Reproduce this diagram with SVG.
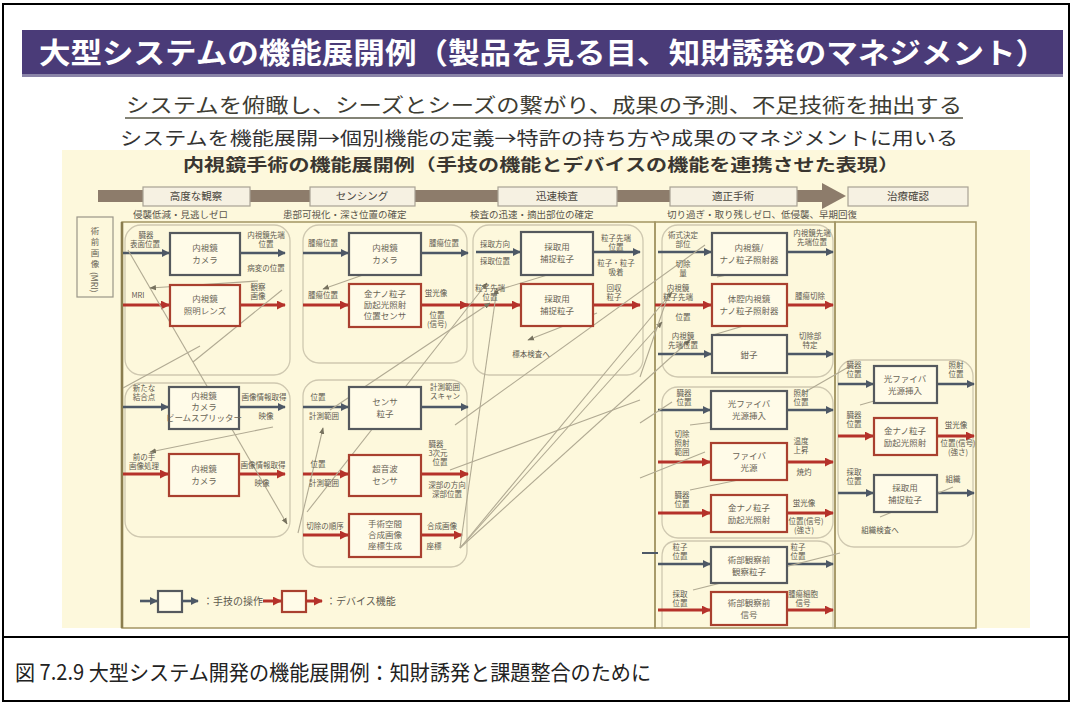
<svg xmlns="http://www.w3.org/2000/svg" width="1073" height="704" viewBox="0 0 1073 704">
<style>
text{font-family:"Noto Sans CJK JP","Noto Sans",sans-serif}
.lb{font-size:7.5px;fill:#5e5a50;text-anchor:middle}
.nt{font-size:8.5px;fill:#6a6456;text-anchor:middle}
.dk{fill:#fffbe8;stroke:#55595e;stroke-width:2.2}
.rd{fill:#fffbe8;stroke:#a9402f;stroke-width:2.2}
.ad{stroke:#4d5866;stroke-width:2.6;marker-end:url(#mad)}
.ar{stroke:#b5322a;stroke-width:3;marker-end:url(#mar)}
.dg{stroke:#b1aa93;stroke-width:1.1;fill:none}
.dga{stroke:#b1aa93;stroke-width:1.1;fill:none;marker-end:url(#mag)}
.grp{fill:none;stroke:#cfc8b0;stroke-width:1.3}
.frm{stroke:#a39563;stroke-width:1.5;fill:none}
.ph{fill:#f6f1e2;stroke:#a8a294;stroke-width:1.2}
.pht{font-size:10.5px;fill:#4a463e;text-anchor:middle}
.sub{font-size:9.5px;fill:#5a564c}
</style>
<defs>
<marker id="mad" viewBox="0 0 10 10" refX="9" refY="5" markerWidth="3.2" markerHeight="3.2" orient="auto"><path d="M0,0L10,5L0,10z" fill="#4d5866"/></marker>
<marker id="mar" viewBox="0 0 10 10" refX="9" refY="5" markerWidth="3" markerHeight="3" orient="auto"><path d="M0,0L10,5L0,10z" fill="#b5322a"/></marker>
<marker id="mag" viewBox="0 0 10 10" refX="9" refY="5" markerWidth="6" markerHeight="6" orient="auto"><path d="M0,1L10,5L0,9z" fill="#77725f"/></marker>
</defs>

<rect x="0" y="0" width="1073" height="704" fill="#ffffff"/>
<rect x="3" y="4" width="1066" height="697" fill="none" stroke="#000" stroke-width="2"/>
<line x1="3" y1="637" x2="1069" y2="637" stroke="#000" stroke-width="2"/>

<!-- title -->
<g id="title">
<rect x="22" y="30" width="1041" height="46" fill="#4a3b78"/>
<rect x="22" y="74" width="1041" height="3" fill="#8a84a8"/>
<text x="543" y="64" font-size="29" font-weight="bold" fill="#ffffff" text-anchor="middle" textLength="1008" lengthAdjust="spacingAndGlyphs">大型システムの機能展開例（製品を見る目、知財誘発のマネジメント）</text>
<text x="544" y="113" font-size="20" fill="#3e3d33" text-anchor="middle" textLength="836" lengthAdjust="spacingAndGlyphs">システムを俯瞰し、シーズとシーズの繋がり、成果の予測、不足技術を抽出する</text>
<line x1="125" y1="118" x2="963" y2="118" stroke="#5a5a48" stroke-width="1.3"/>
<text x="539" y="145" font-size="18.5" fill="#333" text-anchor="middle" textLength="838" lengthAdjust="spacingAndGlyphs">システムを機能展開→個別機能の定義→特許の持ち方や成果のマネジメントに用いる</text>
</g>

<!-- panel -->
<rect x="62" y="150" width="968" height="478" fill="#fdf8dc"/>
<text x="541" y="171" font-size="16.5" font-weight="bold" fill="#3a3630" text-anchor="middle" textLength="716" lengthAdjust="spacingAndGlyphs">内視鏡手術の機能展開例（手技の機能とデバイスの機能を連携させた表現）</text>

<!-- phases -->
<g id="phases">
<rect x="98" y="190" width="726" height="12" fill="#8d7c6b"/>
<polygon points="822,183 846,196 822,209" fill="#8d7c6b"/>
<rect class="ph" x="143" y="187" width="107" height="19"/><text class="pht" x="196" y="200">高度な観察</text>
<rect class="ph" x="310" y="187" width="105" height="19"/><text class="pht" x="362" y="200">センシング</text>
<rect class="ph" x="498" y="187" width="119" height="19"/><text class="pht" x="557" y="200">迅速検査</text>
<rect class="ph" x="670" y="187" width="127" height="19"/><text class="pht" x="733" y="200">適正手術</text>
<rect class="ph" x="848" y="187" width="120" height="19"/><text class="pht" x="908" y="200">治療確認</text>
<text class="sub" x="133" y="218">侵襲低減・見逃しゼロ</text>
<text class="sub" x="283" y="218">患部可視化・深さ位置の確定</text>
<text class="sub" x="470" y="218">検査の迅速・摘出部位の確定</text>
<text class="sub" x="667" y="218">切り過ぎ・取り残しゼロ、低侵襲、早期回復</text>
</g>

<!-- frames and groups -->
<g id="frames">
<rect class="frm" x="122" y="222" width="533" height="406"/>
<rect class="frm" x="655" y="222" width="180" height="406"/>
<rect class="frm" x="835" y="222" width="141" height="406"/>
<line x1="122" y1="222" x2="122" y2="628" stroke="#8a7d4e" stroke-width="2.6"/>
<rect class="grp" x="125" y="225" width="165" height="150" rx="16"/>
<rect class="grp" x="125" y="383" width="165" height="154" rx="16"/>
<rect class="grp" x="303" y="225" width="164" height="138" rx="16"/>
<rect class="grp" x="303" y="380" width="164" height="187" rx="16"/>
<rect class="grp" x="473" y="225" width="170" height="150" rx="16"/>
<rect class="grp" x="662" y="225" width="171" height="152" rx="16"/>
<rect class="grp" x="662" y="387" width="171" height="151" rx="16"/>
<path class="grp" d="M662,627 L662,557 Q662,541 678,541 L817,541 Q833,541 833,557 L833,627"/>
<rect class="grp" x="838" y="360" width="135" height="187" rx="16"/>
</g>

<g id="mri">
<rect x="77" y="217" width="36" height="80" fill="#fdf8dc" stroke="#9a9688" stroke-width="1.2"/>
<text class="nt" x="95" y="234">術</text>
<text class="nt" x="95" y="245">前</text>
<text class="nt" x="95" y="256">画</text>
<text class="nt" x="95" y="267">像</text>
<text class="nt" transform="translate(91,272) rotate(90)" style="text-anchor:start">(MRI)</text>
</g>

<!-- connectors -->
<g id="connectors">
<line class="ad" x1="123" y1="253" x2="169" y2="253"/><line class="ad" x1="240" y1="253" x2="285" y2="253"/>
<line class="ar" x1="123" y1="305" x2="169" y2="305"/><line class="ar" x1="240" y1="305" x2="285" y2="305"/>
<line class="ad" x1="123" y1="407" x2="168" y2="407"/><line class="ad" x1="239" y1="407" x2="285" y2="407"/>
<line class="ar" x1="123" y1="474" x2="168" y2="474"/><line class="ar" x1="239" y1="474" x2="285" y2="474"/>
<line class="ad" x1="303" y1="253" x2="348" y2="253"/><line class="ad" x1="421" y1="253" x2="468" y2="253"/>
<line class="ar" x1="303" y1="305" x2="348" y2="305"/><line class="ar" x1="421" y1="305" x2="468" y2="305"/>
<line class="ad" x1="303" y1="407" x2="348" y2="407"/><line class="ad" x1="421" y1="407" x2="468" y2="407"/>
<line class="ar" x1="303" y1="474" x2="348" y2="474"/><line class="ar" x1="421" y1="474" x2="468" y2="474"/>
<line class="ar" x1="303" y1="535" x2="348" y2="535"/><line class="ar" x1="421" y1="535" x2="462" y2="535"/>
<line class="ad" x1="476" y1="252" x2="520" y2="252"/><line class="ad" x1="593" y1="252" x2="640" y2="252"/>
<line class="ar" x1="462" y1="305" x2="520" y2="305"/><line class="ar" x1="593" y1="305" x2="640" y2="305"/>
<line class="ad" x1="658" y1="252" x2="711" y2="252"/><line class="ad" x1="787" y1="252" x2="833" y2="252"/>
<line class="ar" x1="655" y1="305" x2="711" y2="305"/><line class="ar" x1="787" y1="305" x2="833" y2="305"/>
<line class="ad" x1="658" y1="354" x2="711" y2="354"/><line class="ad" x1="787" y1="354" x2="833" y2="354"/>
<line class="ad" x1="658" y1="410" x2="710" y2="410"/><line class="ad" x1="787" y1="410" x2="833" y2="410"/>
<line class="ar" x1="658" y1="462" x2="710" y2="462"/><line class="ar" x1="787" y1="462" x2="833" y2="462"/>
<line class="ar" x1="658" y1="513" x2="710" y2="513"/><line class="ar" x1="787" y1="513" x2="833" y2="513"/>
<line class="ad" x1="658" y1="564" x2="710" y2="564"/><line class="ad" x1="787" y1="564" x2="833" y2="564"/>
<line class="ar" x1="658" y1="610" x2="710" y2="610"/><line class="ar" x1="787" y1="610" x2="833" y2="610"/>
<line class="ad" x1="838" y1="384" x2="873" y2="384"/><line class="ad" x1="937" y1="384" x2="974" y2="384"/>
<line class="ar" x1="838" y1="436" x2="873" y2="436"/><line class="ar" x1="937" y1="436" x2="974" y2="436"/>
<line class="ad" x1="838" y1="493" x2="873" y2="493"/><line class="ad" x1="937" y1="493" x2="974" y2="493"/>
<line x1="642" y1="553" x2="658" y2="553" stroke="#4d5866" stroke-width="2"/>
<!-- diagonal relations -->
<line class="dga" x1="128" y1="250" x2="287" y2="524"/>
<line class="dg" x1="193" y1="362" x2="282" y2="290"/>
<line class="dga" x1="258" y1="281" x2="150" y2="288"/>
<line class="dg" x1="200" y1="346" x2="123" y2="388"/>
<line class="dga" x1="273" y1="427" x2="150" y2="452"/>
<line class="dga" x1="298" y1="533" x2="323" y2="428"/>
<line class="dga" x1="307" y1="512" x2="487" y2="283"/>
<line class="dga" x1="330" y1="410" x2="490" y2="303"/>
<line class="dga" x1="363" y1="275" x2="323" y2="289"/>
<line class="dga" x1="460" y1="548" x2="497" y2="288"/>
<line class="dga" x1="460" y1="548" x2="672" y2="292"/>
<line class="dga" x1="460" y1="548" x2="690" y2="340"/>
<line class="dga" x1="460" y1="548" x2="662" y2="322"/>
<line class="dg" x1="450" y1="470" x2="640" y2="400"/>
<line class="dg" x1="455" y1="425" x2="705" y2="245"/>
<line class="dga" x1="597" y1="313" x2="528" y2="340"/>
<line class="dg" x1="495" y1="291" x2="590" y2="262"/>
<line class="dg" x1="640" y1="377" x2="670" y2="290"/>
<line class="dg" x1="717" y1="277" x2="787" y2="263"/>
<line class="dg" x1="713" y1="335" x2="787" y2="313"/>
<line class="dg" x1="640" y1="423" x2="672" y2="402"/>
<line class="dg" x1="690" y1="425" x2="787" y2="413"/>
<line class="dg" x1="690" y1="490" x2="787" y2="470"/>
<line class="dg" x1="640" y1="478" x2="705" y2="452"/>
<line class="dg" x1="693" y1="590" x2="840" y2="553"/>
<line class="dg" x1="860" y1="405" x2="937" y2="383"/>
<line class="dg" x1="880" y1="517" x2="953" y2="487"/>
<line class="dg" x1="805" y1="392" x2="852" y2="365"/>
</g>

<!-- column 1 -->
<g id="n1"><rect class="dk" x="170" y="233" width="70" height="42"/><text class="nt" x="205" y="251">内視鏡</text><text class="nt" x="205" y="263">カメラ</text>
<text class="lb" x="146" y="238">臓器</text><text class="lb" x="145" y="247">表面位置</text><text class="lb" x="266" y="238">内視鏡先端</text><text class="lb" x="266" y="247">位置</text><text class="lb" x="266" y="271">病変の位置</text></g>
<g id="n2"><rect class="rd" x="170" y="285" width="70" height="41"/><text class="nt" x="205" y="302">内視鏡</text><text class="nt" x="205" y="314">照明レンズ</text>
<text class="lb" x="138" y="298">MRI</text><text class="lb" x="258" y="290">観察</text><text class="lb" x="258" y="299">画像</text></g>
<g id="n3"><rect class="dk" x="169" y="387" width="70" height="42"/><text class="nt" x="204" y="399">内視鏡</text><text class="nt" x="204" y="410">カメラ</text><text class="nt" x="204" y="421" font-size="7">ビームスプリッター</text>
<text class="lb" x="144" y="391">新たな</text><text class="lb" x="144" y="400">結合点</text><text class="lb" x="264" y="400">画像情報取得</text><text class="lb" x="266" y="419">映像</text></g>
<g id="n4"><rect class="rd" x="169" y="454" width="70" height="42"/><text class="nt" x="204" y="472">内視鏡</text><text class="nt" x="204" y="484">カメラ</text>
<text class="lb" x="144" y="460">前の手</text><text class="lb" x="144" y="469">画像処理</text><text class="lb" x="263" y="468">画像情報取得</text><text class="lb" x="262" y="486">映像</text></g>

<!-- column 2 -->
<g id="n5"><rect class="dk" x="349" y="233" width="72" height="42"/><text class="nt" x="385" y="251">内視鏡</text><text class="nt" x="385" y="263">カメラ</text>
<text class="lb" x="323" y="246">腫瘍位置</text><text class="lb" x="444" y="246">腫瘍位置</text></g>
<g id="n6"><rect class="rd" x="349" y="284" width="72" height="43"/><text class="nt" x="385" y="297">金ナノ粒子</text><text class="nt" x="385" y="308">励起光照射</text><text class="nt" x="385" y="319">位置センサ</text>
<text class="lb" x="323" y="298">腫瘍位置</text><text class="lb" x="436" y="296">蛍光像</text><text class="lb" x="437" y="318">位置</text><text class="lb" x="437" y="327">(信号)</text></g>
<g id="n7"><rect class="dk" x="349" y="387" width="72" height="42"/><text class="nt" x="385" y="405">センサ</text><text class="nt" x="385" y="417">粒子</text>
<text class="lb" x="318" y="400">位置</text><text class="lb" x="324" y="419">計測範囲</text><text class="lb" x="445" y="390">計測範囲</text><text class="lb" x="445" y="399">スキャン</text></g>
<g id="n8"><rect class="rd" x="349" y="455" width="72" height="41"/><text class="nt" x="385" y="472">超音波</text><text class="nt" x="385" y="484">センサ</text>
<text class="lb" x="318" y="467">位置</text><text class="lb" x="324" y="486">計測範囲</text><text class="lb" x="436" y="447">臓器</text><text class="lb" x="438" y="456">3次元</text><text class="lb" x="440" y="465">位置</text><text class="lb" x="447" y="488">深部の方向</text><text class="lb" x="447" y="497">深部位置</text></g>
<g id="n9"><rect class="rd" x="349" y="514" width="72" height="43"/><text class="nt" x="385" y="527">手術空間</text><text class="nt" x="385" y="538">合成画像</text><text class="nt" x="385" y="549">座標生成</text>
<text class="lb" x="325" y="529">切除の順序</text><text class="lb" x="442" y="529">合成画像</text><text class="lb" x="434" y="549">座標</text></g>

<!-- column 3 -->
<g id="n10"><rect class="dk" x="521" y="232" width="72" height="43"/><text class="nt" x="557" y="250">採取用</text><text class="nt" x="557" y="262">捕捉粒子</text>
<text class="lb" x="495" y="247">採取方向</text><text class="lb" x="495" y="264">採取位置</text><text class="lb" x="616" y="241">粒子先端</text><text class="lb" x="616" y="250">位置</text><text class="lb" x="616" y="266">粒子・粒子</text><text class="lb" x="616" y="275">吸着</text></g>
<g id="n11"><rect class="rd" x="521" y="284" width="72" height="42"/><text class="nt" x="557" y="302">採取用</text><text class="nt" x="557" y="314">捕捉粒子</text>
<text class="lb" x="490" y="291">粒子先端</text><text class="lb" x="490" y="300">位置</text><text class="lb" x="614" y="291">回収</text><text class="lb" x="614" y="300">粒子</text><text class="lb" x="531" y="357">標本検査へ</text></g>

<!-- column 4 -->
<g id="n12"><rect class="dk" x="712" y="233" width="75" height="42"/><text class="nt" x="749" y="251">内視鏡/</text><text class="nt" x="749" y="263">ナノ粒子照射器</text>
<text class="lb" x="683" y="238">術式決定</text><text class="lb" x="683" y="247">部位</text><text class="lb" x="812" y="236">内視鏡先端</text><text class="lb" x="812" y="245">先端位置</text></g>
<g id="n13"><rect class="rd" x="712" y="284" width="75" height="42"/><text class="nt" x="749" y="302">体腔内視鏡</text><text class="nt" x="749" y="314">ナノ粒子照射器</text>
<text class="lb" x="683" y="267">切除</text><text class="lb" x="683" y="276">量</text><text class="lb" x="678" y="291">内視鏡</text><text class="lb" x="678" y="300">粒子先端</text><text class="lb" x="810" y="299">腫瘍切除</text></g>
<g id="n14"><rect class="dk" x="712" y="335" width="75" height="38"/><text class="nt" x="749" y="358">鉗子</text>
<text class="lb" x="683" y="320">位置</text><text class="lb" x="683" y="339">内視鏡</text><text class="lb" x="683" y="348">先端位置</text><text class="lb" x="810" y="339">切除部</text><text class="lb" x="810" y="348">特定</text></g>
<g id="n15"><rect class="dk" x="711" y="391" width="76" height="38"/><text class="nt" x="749" y="407">光ファイバ</text><text class="nt" x="749" y="419">光源挿入</text>
<text class="lb" x="684" y="396">臓器</text><text class="lb" x="684" y="405">位置</text><text class="lb" x="801" y="396">照射</text><text class="lb" x="801" y="405">位置</text></g>
<g id="n16"><rect class="rd" x="711" y="443" width="76" height="37"/><text class="nt" x="749" y="459">ファイバ</text><text class="nt" x="749" y="471">光源</text>
<text class="lb" x="682" y="437">切除</text><text class="lb" x="682" y="446">照射</text><text class="lb" x="682" y="455">範囲</text><text class="lb" x="801" y="444">温度</text><text class="lb" x="801" y="453">上昇</text><text class="lb" x="804" y="475">焼灼</text></g>
<g id="n17"><rect class="rd" x="711" y="495" width="76" height="37"/><text class="nt" x="749" y="511">金ナノ粒子</text><text class="nt" x="749" y="523">励起光照射</text>
<text class="lb" x="682" y="498">臓器</text><text class="lb" x="682" y="507">位置</text><text class="lb" x="804" y="506">蛍光像</text><text class="lb" x="806" y="524">位置(信号)</text><text class="lb" x="804" y="533">(強さ)</text></g>
<g id="n18"><rect class="dk" x="711" y="547" width="76" height="36"/><text class="nt" x="749" y="563">術部観察前</text><text class="nt" x="749" y="575">観察粒子</text>
<text class="lb" x="680" y="550">粒子</text><text class="lb" x="680" y="559">位置</text><text class="lb" x="798" y="550">粒子</text><text class="lb" x="798" y="559">位置</text></g>
<g id="n19"><rect class="rd" x="711" y="592" width="76" height="33"/><text class="nt" x="749" y="606">術部観察前</text><text class="nt" x="749" y="618">信号</text>
<text class="lb" x="680" y="597">採取</text><text class="lb" x="680" y="606">位置</text><text class="lb" x="803" y="597">腫瘍細胞</text><text class="lb" x="803" y="606">信号</text></g>

<!-- column 5 -->
<g id="n20"><rect class="dk" x="874" y="366" width="63" height="37"/><text class="nt" x="905" y="382">光ファイバ</text><text class="nt" x="905" y="394">光源挿入</text>
<text class="lb" x="854" y="368">臓器</text><text class="lb" x="854" y="377">位置</text><text class="lb" x="956" y="368">照射</text><text class="lb" x="956" y="377">位置</text></g>
<g id="n21"><rect class="rd" x="874" y="418" width="63" height="37"/><text class="nt" x="905" y="434">金ナノ粒子</text><text class="nt" x="905" y="446">励起光照射</text>
<text class="lb" x="854" y="418">臓器</text><text class="lb" x="854" y="427">位置</text><text class="lb" x="956" y="428">蛍光像</text><text class="lb" x="958" y="446">位置(信号)</text><text class="lb" x="958" y="455">(強さ)</text></g>
<g id="n22"><rect class="dk" x="874" y="475" width="63" height="37"/><text class="nt" x="905" y="491">採取用</text><text class="nt" x="905" y="503">捕捉粒子</text>
<text class="lb" x="854" y="475">採取</text><text class="lb" x="854" y="484">位置</text><text class="lb" x="953" y="482">組織</text><text class="lb" x="880" y="533">組織検査へ</text></g>

<!-- legend -->
<g id="legend">
<line class="ad" x1="140" y1="601" x2="157" y2="601"/>
<rect class="dk" x="158" y="591" width="24" height="21"/>
<line class="ad" x1="182" y1="601" x2="198" y2="601"/>
<text x="203" y="605" font-size="10" fill="#5e5a50">：手技の操作</text>
<line class="ar" x1="263" y1="601" x2="281" y2="601"/>
<rect class="rd" x="282" y="591" width="24" height="21"/>
<line class="ar" x1="306" y1="601" x2="322" y2="601"/>
<text x="326" y="605" font-size="10" fill="#5e5a50">：デバイス機能</text>
</g>

<!-- caption -->
<text x="15" y="680" font-size="21" fill="#222" textLength="636" lengthAdjust="spacingAndGlyphs">図 7.2.9 大型システム開発の機能展開例：知財誘発と課題整合のために</text>
</svg>
